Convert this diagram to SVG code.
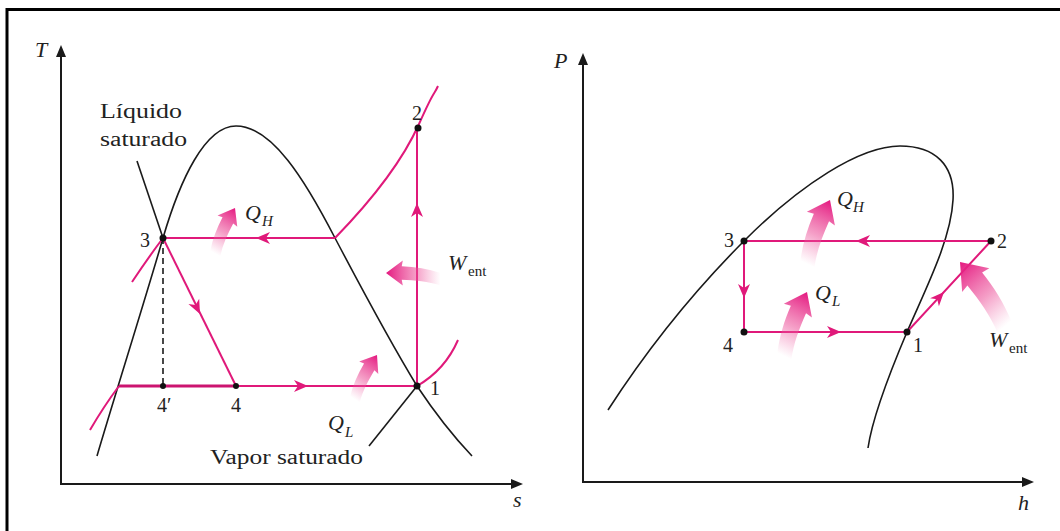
<svg xmlns="http://www.w3.org/2000/svg" xmlns:xlink="http://www.w3.org/1999/xlink" width="1060" height="531" viewBox="0 0 1060 531">
<style>
.bk{fill:none;stroke:#1a1a1a;stroke-width:1.6}
.ax{fill:none;stroke:#1a1a1a;stroke-width:2}
.pk{fill:none;stroke:#e0197a;stroke-width:2}
.pk3{fill:none;stroke:#cc1470;stroke-width:3.2}
.dot{fill:#111}
.t{font-family:"Liberation Serif","Times New Roman",serif;font-size:20px;fill:#222}
.i{font-style:italic;font-size:22px}
.sub{font-family:"Liberation Serif","Times New Roman",serif;font-size:15px;fill:#222}
.si{font-style:italic}
.ah{fill:#e0197a}
.axh{fill:#1a1a1a}
</style>
<defs>
<linearGradient id="fg" x1="0" y1="1" x2="0" y2="0">
<stop offset="0" stop-color="#f06aa8" stop-opacity="0"/>
<stop offset="0.45" stop-color="#ec4e98" stop-opacity="0.55"/>
<stop offset="1" stop-color="#e4177f" stop-opacity="1"/>
</linearGradient>
<path id="fa" d="M0,0 L12,16 L6.5,15 C6,28 4,40 0,52 L-12,52 C-8,40 -7,28 -6.5,15 L-12,16 Z" fill="url(#fg)"/>
<path id="ah" d="M0,0 L-14,-6 L-10,0 L-14,6 Z"/>
<path id="axa" d="M0,0 L-12,-5 L-12,5 Z"/>
</defs>

<path d="M7,531 V9.5 H1060" fill="none" stroke="#000" stroke-width="3"/>

<!-- LEFT T-s diagram -->
<g id="ts-axes">
<path class="ax" d="M61,50 V484 H518"/>
<use href="#axa" class="axh" transform="translate(61,45) rotate(-90)"/>
<use href="#axa" class="axh" transform="translate(523,484)"/>
<text class="t i" x="35" y="57">T</text>
<text class="t i" x="513" y="507">s</text>
</g>

<g id="ts-dome">
<path class="bk" d="M97,456 C115,395 145,300 163,238 C180,180 205,126 236,126 C272,126 305,180 335,238 C365,295 395,350 417,386 C435,413 452,435 472,456"/>
</g>

<g id="ts-isobars">
<path class="pk" d="M90,430 Q104,406 119,386"/>
<path class="pk" d="M132,282 Q148,258 163,238"/>
<path class="pk" d="M335,238 C372,200 402,162 419,124 S433,97 438,86"/>
<path class="pk" d="M417,386 Q445,370 458,340"/>
</g>

<g id="ts-connectors">
<path class="pk" d="M163,238 H335"/>
<path class="pk" d="M417,386 V128"/>
<path class="pk" d="M163,238 L236,386"/>
<path class="pk" d="M236,386 H417"/>
<path class="pk3" d="M119,386 H236"/>
<path d="M163,238 V386" fill="none" stroke="#1a1a1a" stroke-width="1.6" stroke-dasharray="6,4"/>
<use href="#ah" class="ah" transform="translate(256,238) rotate(180)"/>
<use href="#ah" class="ah" transform="translate(417,203) rotate(-90)"/>
<use href="#ah" class="ah" transform="translate(200,314) rotate(63.7)"/>
<use href="#ah" class="ah" transform="translate(308,386)"/>
<path class="bk" d="M137,161 L163,238"/>
<path class="bk" d="M369,446 L417,386"/>
</g>

<g id="ts-arrows">
<use href="#fa" transform="translate(235,208) rotate(30) scale(-0.95,0.95)"/>
<use href="#fa" transform="translate(386,273) rotate(-90) scale(1.05)"/>
<use href="#fa" transform="translate(377,355) rotate(33) scale(-0.95,0.95)"/>
</g>

<g id="ts-points">
<circle class="dot" cx="163" cy="238" r="3.5"/>
<circle class="dot" cx="418" cy="128" r="3.5"/>
<circle class="dot" cx="417" cy="386" r="3.5"/>
<circle class="dot" cx="236" cy="386" r="3"/>
<circle class="dot" cx="163" cy="386" r="3"/>
</g>

<g id="ts-labels">
<text class="t" x="100" y="118" textLength="82" lengthAdjust="spacingAndGlyphs">Líquido</text>
<text class="t" x="100" y="146" textLength="87" lengthAdjust="spacingAndGlyphs">saturado</text>
<text class="t" x="412" y="120">2</text>
<text class="t" x="140" y="247">3</text>
<text class="t" x="430" y="395">1</text>
<text class="t" x="157" y="412">4′</text>
<text class="t" x="231" y="412">4</text>
<text class="t i" x="245" y="220">Q</text><text class="sub si" x="262" y="226">H</text>
<text class="t i" x="448" y="270">W</text><text class="sub" x="468" y="276">ent</text>
<text class="t i" x="328" y="430">Q</text><text class="sub si" x="345" y="437">L</text>
<text class="t" x="210" y="464" textLength="153" lengthAdjust="spacingAndGlyphs">Vapor saturado</text>
</g>

<!-- RIGHT P-h diagram -->
<g id="ph-axes">
<path class="ax" d="M583,58 V482 H1028"/>
<use href="#axa" class="axh" transform="translate(583,53) rotate(-90)"/>
<use href="#axa" class="axh" transform="translate(1034,482)"/>
<text class="t i" x="554" y="68">P</text>
<text class="t i" x="1018" y="510">h</text>
</g>

<g id="ph-dome">
<path class="bk" d="M608,410 C650,345 700,285 745,240 C800,185 860,146 900,146 C935,146 955,165 953,200 C951,240 925,290 907,332 C890,372 872,420 868,448"/>
</g>

<g id="ph-connectors">
<path class="pk" d="M991,241 H744 V332 H907 L991,241"/>
<use href="#ah" class="ah" transform="translate(856,241) rotate(180)"/>
<use href="#ah" class="ah" transform="translate(744,298) rotate(90)"/>
<use href="#ah" class="ah" transform="translate(841,332)"/>
<use href="#ah" class="ah" transform="translate(944,292) rotate(-47.3)"/>
</g>

<g id="ph-arrows">
<use href="#fa" transform="translate(830,200) rotate(26) scale(-1.3,1.3)"/>
<use href="#fa" transform="translate(807,292) rotate(26) scale(-1.3,1.3)"/>
<use href="#fa" transform="translate(960,262) rotate(-41) scale(1.5)"/>
</g>

<g id="ph-points">
<circle class="dot" cx="744" cy="241" r="3.5"/>
<circle class="dot" cx="991" cy="241" r="3.5"/>
<circle class="dot" cx="744" cy="332" r="3.5"/>
<circle class="dot" cx="907" cy="332" r="3.5"/>
</g>

<g id="ph-labels">
<text class="t" x="724" y="247">3</text>
<text class="t" x="997" y="248">2</text>
<text class="t" x="723" y="352">4</text>
<text class="t" x="913" y="352">1</text>
<text class="t i" x="837" y="206">Q</text><text class="sub si" x="853" y="212">H</text>
<text class="t i" x="815" y="300">Q</text><text class="sub si" x="832" y="306">L</text>
<text class="t i" x="989" y="347">W</text><text class="sub" x="1009" y="353">ent</text>
</g>
</svg>
